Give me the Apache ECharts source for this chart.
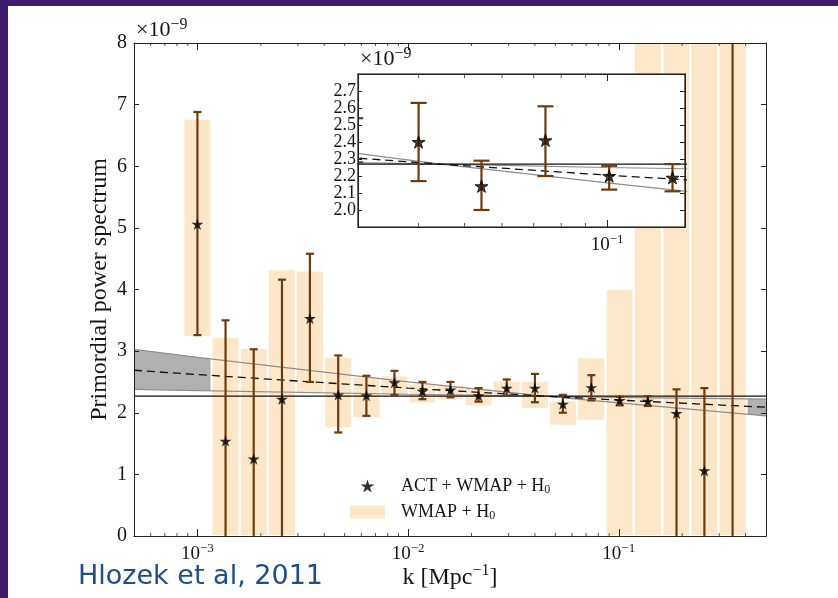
<!DOCTYPE html>
<html>
<head>
<meta charset="UTF-8">
<title>Primordial power spectrum</title>
<script src="https://cdn.jsdelivr.net/npm/echarts@6/dist/echarts.min.js"></script>
<style>
html,body{margin:0;padding:0;}
body{width:838px;height:598px;background:#3d1c6e;position:relative;overflow:hidden;}
#paper{position:absolute;left:8px;top:6px;width:830px;height:592px;background:#fff;}
#chart{position:absolute;left:0;top:0;width:838px;height:598px;}
</style>
</head>
<body>
<div id="paper"></div>
<div id="chart"></div>
<script>
// bin centres k [Mpc^-1]
var kBin = [0.00100, 0.00136, 0.00185, 0.00252, 0.00342, 0.00466, 0.00634, 0.00862, 0.0117, 0.0159,
            0.0216, 0.0294, 0.0400, 0.0543, 0.0741, 0.1010, 0.1374, 0.188, 0.255, 0.347];
// ACT + WMAP + H0 (x1e-9), with error bar ends (-1 / 10 = off the plot)
var actVal = [5.06, 1.54, 1.25, 2.22, 3.53, 2.29, 2.28, 2.49, 2.35, 2.37,
              2.28, 2.40, 2.40, 2.14, 2.41, 2.20, 2.19, 1.99, 1.06, null];
var actLo  = [3.26, -1, -1, -1, 2.50, 1.68, 1.95, 2.29, 2.22, 2.25,
              2.18, 2.28, 2.17, 2.00, 2.20, 2.12, 2.11, -1, -1, -1];
var actHi  = [6.88, 3.50, 3.03, 4.16, 4.58, 2.93, 2.60, 2.68, 2.50, 2.50,
              2.40, 2.54, 2.63, 2.29, 2.61, 2.26, 2.27, 2.38, 2.40, 10];
// WMAP + H0 bands
var wmapLo = [3.23, 0, 0, 0, 2.30, 1.75, 1.91, 2.29, 2.15, 2.20,
              2.10, 2.28, 2.06, 1.79, 1.87, 0, 0, 0, 0, 0];
var wmapHi = [6.77, 3.23, 3.05, 4.33, 4.31, 2.91, 2.59, 2.61, 2.48, 2.45,
              2.41, 2.52, 2.52, 2.20, 2.90, 4.01, 10, 10, 10, 10];
// power-law curves
var kLine     = [0.0005, 0.001, 0.01, 0.0445, 0.1, 0.5];
var fitLine   = [2.69, 2.62, 2.40, 2.27, 2.205, 2.09];
var grayUpper = [3.03, 2.90, 2.50, 2.27, 2.16, 1.95];
var grayLower = [2.38, 2.36, 2.30, 2.27, 2.25, 2.22];
var flatLevel = 2.27;
// ticks
var mainTickVals = [0.001, 0.01, 0.1];
var mainTickExps = ['\u22123', '\u22122', '\u22121'];
var insetTickVals = [0.1];
var insetTickExps = ['\u22121'];
var mainMinor = [0.0006, 0.0007, 0.0008, 0.0009, 0.002, 0.003, 0.004, 0.005, 0.006, 0.007, 0.008, 0.009,
                 0.02, 0.03, 0.04, 0.05, 0.06, 0.07, 0.08, 0.09, 0.2, 0.3, 0.4];
var insetMinor = [0.04, 0.05, 0.06, 0.07, 0.08, 0.09];

var serif = "'Liberation Serif', 'DejaVu Serif', serif";
var ink = '#161616';
var bandColor = '#fde7c9';
var errColor = '#6e3a0f';
var grayFill = '#b0b0b0';
var grayLine = '#8d8d8d';
var starPath = 'path://M0,-10L2.245,-3.09L9.51,-3.09L3.633,1.18L5.878,8.09L0,3.82L-5.878,8.09L-3.633,1.18L-9.51,-3.09L-2.245,-3.09Z';
var binHalf = 1.166;

var supRich = {
  b: {fontFamily: serif, fontWeight: 'normal', fontSize: 19, lineHeight: 22, verticalAlign: 'bottom', color: ink},
  s: {fontFamily: serif, fontWeight: 'normal', fontSize: 13, lineHeight: 10, verticalAlign: 'top', color: ink}
};
var expRich = {
  b: {fontFamily: serif, fontWeight: 'normal', fontSize: 22, lineHeight: 24, verticalAlign: 'bottom', color: ink},
  s: {fontFamily: serif, fontWeight: 'normal', fontSize: 16, lineHeight: 11, verticalAlign: 'top', color: ink}
};
var nameRich = {
  a: {fontFamily: serif, fontWeight: 'normal', fontSize: 24, lineHeight: 27, verticalAlign: 'bottom', color: ink},
  s: {fontFamily: serif, fontWeight: 'normal', fontSize: 16, lineHeight: 12, verticalAlign: 'top', color: ink}
};

function decade(vals, exps) {
  return function (v) {
    for (var i = 0; i < vals.length; i++) {
      if (Math.abs(Math.log10(v / vals[i])) < 1e-6) return '{b|10}{s|' + exps[i] + '}';
    }
    return '';
  };
}

function errBars(capHalf, lw) {
  return function (params, api) {
    var k = api.value(0);
    var a = api.coord([k, api.value(1)]), b = api.coord([k, api.value(2)]);
    var st = {stroke: errColor, lineWidth: lw};
    return {type: 'group', children: [
      {type: 'line', shape: {x1: a[0], y1: a[1], x2: b[0], y2: b[1]}, style: st},
      {type: 'line', shape: {x1: a[0] - capHalf, y1: a[1], x2: a[0] + capHalf, y2: a[1]}, style: st},
      {type: 'line', shape: {x1: b[0] - capHalf, y1: b[1], x2: b[0] + capHalf, y2: b[1]}, style: st}
    ]};
  };
}

function minorTicks(yLo, yHi, len) {
  return function (params, api) {
    var v = api.value(0);
    var a = api.coord([v, yLo]), b = api.coord([v, yHi]);
    var st = {stroke: '#555', lineWidth: 1};
    return {type: 'group', children: [
      {type: 'line', shape: {x1: a[0], y1: a[1], x2: a[0], y2: a[1] - len}, style: st},
      {type: 'line', shape: {x1: b[0], y1: b[1], x2: b[0], y2: b[1] + len}, style: st}
    ]};
  };
}

function pairs(xs, ys) {
  var out = [];
  for (var i = 0; i < xs.length; i++) if (ys[i] != null) out.push([xs[i], ys[i]]);
  return out;
}

var errData = kBin.map(function (k, i) { return [k, actLo[i], actHi[i]]; });
var bandData = kBin.map(function (k, i) { return [k, wmapLo[i], wmapHi[i]]; });
var flatData = [[kLine[0], flatLevel], [kLine[kLine.length - 1], flatLevel]];

function lineSeries(xi, yi, data, color, width, type, z) {
  return {type: 'line', xAxisIndex: xi, yAxisIndex: yi, data: data, symbol: 'none', z: z, silent: true,
    clip: true, lineStyle: {color: color, width: width, type: type}};
}

function logAxis(grid, pos, min, max, z, labels) {
  var ax = {gridIndex: grid, type: 'log', logBase: 10, min: min, max: max, position: pos, z: z,
    axisLine: {show: true, onZero: false, lineStyle: {color: '#222', width: 1}},
    axisTick: {show: true, inside: true, length: 7, lineStyle: {color: '#222'}},
    splitLine: {show: false}, axisLabel: {show: false}};
  if (labels) {
    ax.axisLabel = {show: true, margin: 6, formatter: labels, rich: supRich};
  }
  return ax;
}

function valAxis(grid, pos, min, max, step, z, label) {
  var ax = {gridIndex: grid, type: 'value', min: min, max: max, interval: step, position: pos, z: z,
    axisLine: {show: true, onZero: false, lineStyle: {color: '#222', width: 1}},
    axisTick: {show: true, inside: true, length: 5, lineStyle: {color: '#222'}},
    splitLine: {show: false}, axisLabel: {show: false}};
  if (label) ax.axisLabel = label;
  return ax;
}

var xMain = logAxis(0, 'bottom', 0.0005, 0.5, 8, decade(mainTickVals, mainTickExps));
xMain.name = '{a|k [Mpc}{s|\u22121}{a|]}';
xMain.nameLocation = 'middle';
xMain.nameGap = 27;
xMain.nameMoveOverlap = false;
xMain.nameTextStyle = {rich: nameRich};

var yMain = valAxis(0, 'left', 0, 8, 1, 8,
  {show: true, margin: 7, fontFamily: serif, fontSize: 20, color: ink});
yMain.name = 'Primordial power spectrum';
yMain.nameLocation = 'middle';
yMain.nameGap = 22;
yMain.nameMoveOverlap = false;
yMain.nameTextStyle = {fontFamily: serif, fontSize: 24, color: ink};

var xInset = logAxis(1, 'bottom', 0.0298, 0.146, 16, decade(insetTickVals, insetTickExps));
var yInset = valAxis(1, 'left', 1.9, 2.8, 0.1, 16,
  {show: true, margin: 2, fontFamily: serif, fontSize: 18, color: ink, showMaxLabel: false,
   formatter: function (v) { return v.toFixed(1); }});
yInset.axisTick.length = 4;

var expTitle = {fontFamily: serif, fontWeight: 'normal', fontSize: 22, color: ink, rich: expRich};

var chart = echarts.init(document.getElementById('chart'), null, {renderer: 'canvas'});
chart.setOption({
  animation: false,
  backgroundColor: 'transparent',
  title: [
    {text: 'Hlozek et al, 2011', left: 78, top: 563, padding: 0,
     textStyle: {fontFamily: "'DejaVu Sans', sans-serif", fontSize: 27, fontWeight: 'normal', color: '#1d4e89'}},
    {text: '{b|\u00d710}{s|\u22129}', left: 136, top: 17, padding: 0, textStyle: expTitle},
    {text: '{b|\u00d710}{s|\u22129}', left: 360, top: 46, padding: 0, textStyle: expTitle}
  ],
  legend: {
    orient: 'vertical', left: 350, top: 477, padding: 0, itemWidth: 35, itemHeight: 13, itemGap: 7,
    selectedMode: false,
    data: [{name: 'ACT + WMAP + H0', icon: starPath}, {name: 'WMAP + H0', icon: 'rect'}],
    formatter: function (n) { return '{n|' + n.slice(0, -1) + '}{u|' + n.slice(-1) + '}'; },
    textStyle: {padding: [0, 0, 0, 11], rich: {
      n: {fontFamily: serif, fontSize: 18, lineHeight: 20, color: ink},
      u: {fontFamily: serif, fontSize: 12, lineHeight: 8, verticalAlign: 'bottom', color: ink}
    }}
  },
  grid: [
    {left: 134, top: 43, width: 632, height: 493, show: false, containLabel: false, outerBoundsMode: 'none'},
    {left: 358, top: 74, width: 327, height: 153, show: true, backgroundColor: '#fff',
     borderColor: '#111', borderWidth: 1.2, z: 10, containLabel: false, outerBoundsMode: 'none'}
  ],
  xAxis: [
    xMain,
    logAxis(0, 'top', 0.0005, 0.5, 8, null),
    xInset,
    logAxis(1, 'top', 0.0298, 0.146, 16, null)
  ],
  yAxis: [
    yMain,
    valAxis(0, 'right', 0, 8, 1, 8, null),
    yInset,
    valAxis(1, 'right', 1.9, 2.8, 0.1, 16, null)
  ],
  series: [
    {type: 'custom', name: 'grayband', xAxisIndex: 0, yAxisIndex: 0, z: 1, clip: true, silent: true,
     data: [[kLine[3], grayUpper[3]]],
     renderItem: function (params, api) {
       var pts = [], i;
       for (i = 0; i < kLine.length; i++) pts.push(api.coord([kLine[i], grayUpper[i]]));
       for (i = kLine.length - 1; i >= 0; i--) pts.push(api.coord([kLine[i], grayLower[i]]));
       return {type: 'polygon', shape: {points: pts}, style: {fill: grayFill}};
     }},
    {type: 'custom', name: 'WMAP + H0', xAxisIndex: 0, yAxisIndex: 0, z: 2, clip: true, silent: true,
     itemStyle: {color: bandColor}, data: bandData,
     renderItem: function (params, api) {
       var k = api.value(0);
       var p0 = api.coord([k / binHalf, api.value(2)]), p1 = api.coord([k * binHalf, api.value(1)]);
       return {type: 'rect', shape: {x: p0[0], y: p0[1], width: p1[0] - p0[0], height: p1[1] - p0[1]},
               style: {fill: bandColor, stroke: '#fff', lineWidth: 2}};
     }},
    lineSeries(0, 0, pairs(kLine, grayUpper), grayLine, 1.2, 'solid', 3),
    lineSeries(0, 0, pairs(kLine, grayLower), grayLine, 1.2, 'solid', 3),
    lineSeries(0, 0, flatData, '#111', 1.2, 'solid', 3),
    lineSeries(0, 0, pairs(kLine, fitLine), '#111', 1.3, [8, 5], 3),
    {type: 'custom', name: 'err', xAxisIndex: 0, yAxisIndex: 0, z: 4, clip: true, silent: true,
     data: errData, renderItem: errBars(4, 2.2)},
    {type: 'scatter', name: 'ACT + WMAP + H0', xAxisIndex: 0, yAxisIndex: 0, z: 5, silent: true,
     symbol: starPath, symbolSize: 12, symbolKeepAspect: true, itemStyle: {color: '#000'},
     data: pairs(kBin, actVal)},
    {type: 'custom', name: 'minor', xAxisIndex: 0, yAxisIndex: 0, z: 6, silent: true,
     data: mainMinor.map(function (v) { return [v, 0]; }), renderItem: minorTicks(0, 8, 3)},
    // inset
    lineSeries(2, 2, pairs(kLine, grayUpper), grayLine, 1.2, 'solid', 12),
    lineSeries(2, 2, pairs(kLine, grayLower), grayLine, 1.2, 'solid', 12),
    lineSeries(2, 2, flatData, '#111', 1.3, 'solid', 12),
    lineSeries(2, 2, pairs(kLine, fitLine), '#111', 1.3, [8, 5], 12),
    {type: 'custom', name: 'errInset', xAxisIndex: 2, yAxisIndex: 2, z: 13, clip: true, silent: true,
     data: errData, renderItem: errBars(8, 2.2)},
    {type: 'scatter', name: 'starsInset', xAxisIndex: 2, yAxisIndex: 2, z: 14, silent: true, clip: true,
     symbol: starPath, symbolSize: 13, symbolKeepAspect: true,
     itemStyle: {color: '#1e1206', borderColor: '#000', borderWidth: 1},
     data: pairs(kBin, actVal)},
    {type: 'custom', name: 'minorInset', xAxisIndex: 2, yAxisIndex: 2, z: 15, silent: true,
     data: insetMinor.map(function (v) { return [v, 1.9]; }), renderItem: minorTicks(1.9, 2.8, 4)}
  ]
});
</script>
</body>
</html>
